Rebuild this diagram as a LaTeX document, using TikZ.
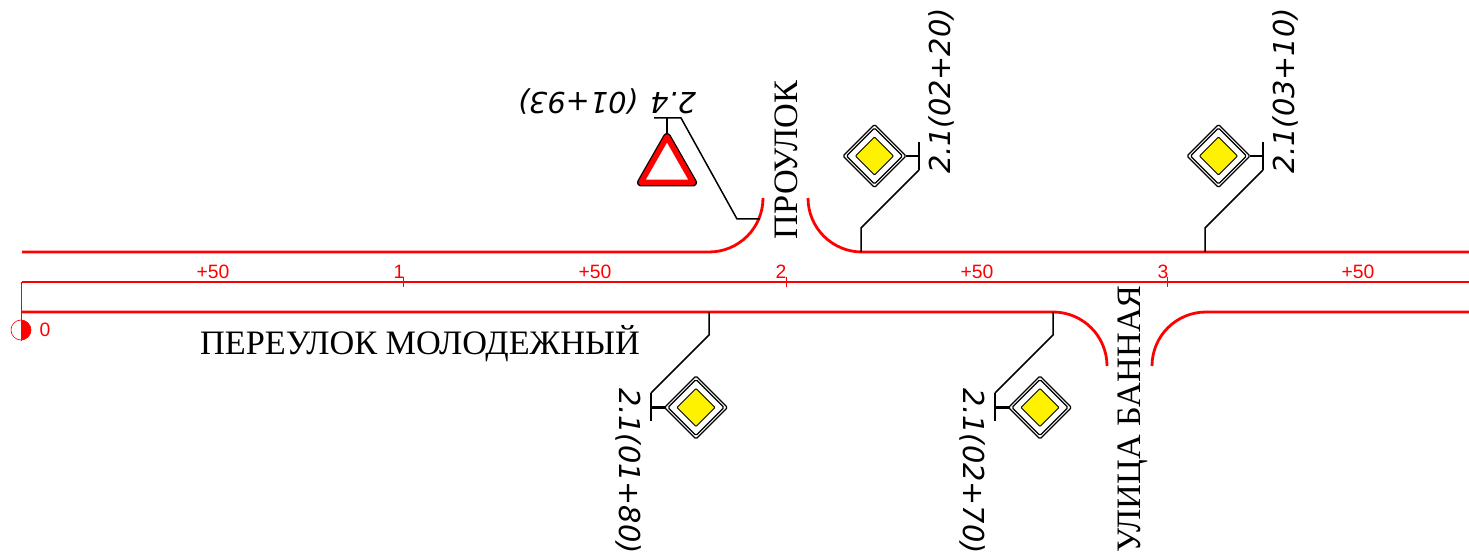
\documentclass[tikz,border=0pt]{standalone}
\usepackage{fontspec}
\setmainfont{Liberation Serif}
\setsansfont{Liberation Sans}
\newfontfamily\signfont{DejaVu Sans}
\usetikzlibrary{shapes.geometric}
\tikzset{
  road/.style={red, line width=0.056cm},
  axis/.style={red, line width=0.048cm},
  tick/.style={red, line width=0.015cm},
  leader/.style={black, line width=0.03cm},
  post/.style={black, line width=0.045cm},
  chainage/.style={red, inner sep=0pt, font=\sffamily\fontsize{11}{11}\selectfont},
  street/.style={black, inner sep=0pt, anchor=base, font=\rmfamily\fontsize{19.5}{20}\selectfont},
  signlabel/.style={black, inner sep=0pt, anchor=base, font=\signfont\itshape\fontsize{16.4}{16.4}\selectfont},
  signouter/.style={diamond, draw=black, fill=white, line width=0.024cm, rounded corners=0.03cm, aspect=1, inner sep=0pt, outer sep=0pt, minimum width=1.26cm, minimum height=1.26cm},
  signinner/.style={diamond, draw=black, fill=white, line width=0.024cm, rounded corners=0.03cm, aspect=1, inner sep=0pt, outer sep=0pt, minimum width=1.12cm, minimum height=1.12cm},
  signcore/.style={diamond, draw=black, fill=yellow, line width=0.02cm, rounded corners=0.02cm, aspect=1, inner sep=0pt, outer sep=0pt, minimum width=0.76cm, minimum height=0.76cm},
}
\begin{document}
\begin{tikzpicture}[x=0.02cm, y=-0.02cm]
  \useasboundingbox (0,0) rectangle (1469,560);

  % Road edges
  \draw[road] (22,252) -- (709,252) arc[start angle=90, end angle=0, radius=54];
  \draw[road] (808,198) arc[start angle=180, end angle=90, radius=54] -- (1469,252);
  \draw[axis] (22,282) -- (1469,282);
  \draw[road] (22,312) -- (1053,312) arc[start angle=270, end angle=360, radius=54];
  \draw[road] (1152,366) arc[start angle=180, end angle=270, radius=54] -- (1469,312);

  % Start mark
  \draw[red, line width=0.012cm] (21,282) -- (21,341);
  \draw[red, line width=0.012cm] (21,330) circle[radius=10];
  \fill[red] (21,320) arc[start angle=-90, end angle=90, radius=10] -- cycle;
  \node[chainage] (zero) at (45,330) {0};

  % Chainage
  \node[chainage] (plusa) at (213,272) {+50};
  \node[chainage] (kma) at (399,272) {1};
  \node[chainage] (plusb) at (595,272) {+50};
  \node[chainage] (kmb) at (781,272) {2};
  \node[chainage] (plusc) at (977,272) {+50};
  \node[chainage] (kmc) at (1163,272) {3};
  \node[chainage] (plusd) at (1358,272) {+50};
  \draw[tick] (403,277) -- (403,287);
  \draw[tick] (786,277) -- (786,287);
  \draw[tick] (1167,277) -- (1167,287);

  % Street names
  \node[street] (molodezhny) at (420,354) {ПЕРЕУЛОК МОЛОДЕЖНЫЙ};
  \node[street, rotate=90] (proulok) at (797,160) {ПРОУЛОК};
  \node[street, rotate=90] (bannaya) at (1140,419) {УЛИЦА БАННАЯ};

  % Give way sign
  \coordinate (roadgive) at (760,219);
  \coordinate (postgive) at (681,118);
  \coordinate (topgive) at (667,118);
  \coordinate (apexgive) at (667,137);
  \draw[leader] (roadgive) -- ++(-23,0) -- (postgive) -- ++(-27,0);
  \draw[leader] (topgive) -- (apexgive);
  \draw[black, line width=0.16cm, line join=round] (apexgive) -- (693,182.5) -- (641,182.5) -- cycle;
  \draw[red, fill=white, line width=0.11cm, line join=round] (apexgive) -- (693,182.5) -- (641,182.5) -- cycle;
  \node[signlabel, rotate=180] (labelgive) at (607,93) {2.4\hspace{0.25cm}(01+93)};

  % Main road signs above
  \node[signouter] (signb) at (874.5,156) {};
  \node[signinner] at (signb) {};
  \node[signcore] at (signb) {};
  \coordinate (roadb) at (861,252);
  \coordinate (postb) at (919,170);
  \draw[leader] (roadb) -- ++(0,-24) -- (postb);
  \draw[post] (postb) -- ++(0,-28);
  \draw[post] (signb.east) -- ++(14,0);
  \node[signlabel, rotate=90] (labelb) at (950,91) {2.1(02+20)};

  \node[signouter] (signc) at (1218.5,156) {};
  \node[signinner] at (signc) {};
  \node[signcore] at (signc) {};
  \coordinate (roadc) at (1205,252);
  \coordinate (postc) at (1263,170);
  \draw[leader] (roadc) -- ++(0,-24) -- (postc);
  \draw[post] (postc) -- ++(0,-28);
  \draw[post] (signc.east) -- ++(14,0);
  \node[signlabel, rotate=90] (labelc) at (1294,91) {2.1(03+10)};

  % Main road signs below
  \node[signouter] (signa) at (696,407.5) {};
  \node[signinner] at (signa) {};
  \node[signcore] at (signa) {};
  \coordinate (roada) at (709,312);
  \coordinate (posta) at (651,393);
  \draw[leader] (roada) -- ++(0,23) -- (posta);
  \draw[post] (posta) -- ++(0,28);
  \draw[post] (signa.west) -- ++(-14,0);
  \node[signlabel, rotate=-90] (labela) at (619,471) {2.1(01+80)};

  \node[signouter] (signd) at (1040,407.5) {};
  \node[signinner] at (signd) {};
  \node[signcore] at (signd) {};
  \coordinate (roadd) at (1053,312);
  \coordinate (postd) at (995,393);
  \draw[leader] (roadd) -- ++(0,23) -- (postd);
  \draw[post] (postd) -- ++(0,28);
  \draw[post] (signd.west) -- ++(-14,0);
  \node[signlabel, rotate=-90] (labeld) at (963,471) {2.1(02+70)};
\end{tikzpicture}
\end{document}
